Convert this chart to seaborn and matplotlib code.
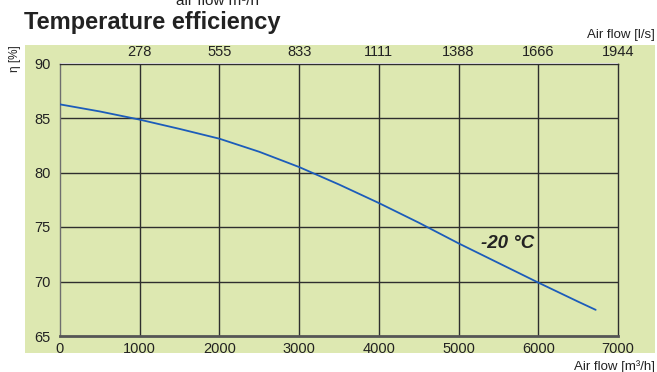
import matplotlib
matplotlib.use("Agg")
import matplotlib.pyplot as plt
from matplotlib.patches import Rectangle
import pandas as pd
import seaborn as sns

# Temperature efficiency curve at -20 °C outdoor temperature
airflow_m3h = [0, 500, 1000, 1500, 2000, 2500, 3000, 3500, 4000, 4500, 5000, 5500, 6000, 6500, 6720]
efficiency = [86.25, 85.6, 84.85, 84.0, 83.1, 81.9, 80.5, 78.9, 77.2, 75.4, 73.5, 71.7, 69.9, 68.15, 67.4]

bottom_ticks = [0, 1000, 2000, 3000, 4000, 5000, 6000, 7000]
top_ticks = [1000, 2000, 3000, 4000, 5000, 6000, 7000]
top_labels = ["278", "555", "833", "1111", "1388", "1666", "1944"]
y_ticks = [65, 70, 75, 80, 85, 90]

df = pd.DataFrame({"airflow": airflow_m3h, "eta": efficiency})

sns.set_theme(style="white")
plt.rcParams["font.family"] = ["Liberation Sans", "DejaVu Sans"]

BG = "#dde8b1"
GRID = "#2e2e2e"
TXT = "#222222"

W, H = 657, 372
fig = plt.figure(figsize=(W / 100, H / 100), dpi=100)
fig.patch.set_facecolor("white")

# green panel behind the chart
fig.patches.append(Rectangle((25 / W, 1 - 353 / H), (655 - 25) / W, (353 - 45) / H,
                             transform=fig.transFigure, facecolor=BG,
                             edgecolor="none", zorder=-1))

ax = fig.add_axes([60 / W, 1 - 336 / H, (618 - 60) / W, (336 - 63.5) / H])
ax.set_zorder(1)
ax.set_facecolor(BG)

sns.lineplot(data=df, x="airflow", y="eta", ax=ax, color="#1c5cba", linewidth=1.3,
             zorder=3)

ax.set_xlim(0, 7000)
ax.set_ylim(65, 90)
ax.set_xticks(bottom_ticks)
ax.set_yticks(y_ticks)
ax.set_xlabel("")
ax.set_ylabel("")

for v in bottom_ticks[1:-1]:
    ax.axvline(v, color=GRID, linewidth=1.0, zorder=2)
for v in y_ticks[1:-1]:
    ax.axhline(v, color=GRID, linewidth=1.0, zorder=2)

for side in ["top", "right"]:
    ax.spines[side].set_color(GRID)
    ax.spines[side].set_linewidth(1.0)
ax.spines["left"].set_color("#6e6e6e")
ax.spines["left"].set_linewidth(1.0)
ax.spines["bottom"].set_color("#555555")
ax.spines["bottom"].set_linewidth(2.0)

ax.tick_params(axis="both", length=0, labelsize=10.5, colors=TXT)
ax.tick_params(axis="x", pad=4)
ax.tick_params(axis="y", pad=7)

top = ax.secondary_xaxis("top")
top.set_xticks(top_ticks)
top.set_xticklabels(top_labels)
top.tick_params(length=0, labelsize=10.5, colors=TXT, pad=3)
top.spines["top"].set_visible(False)

ax.text(5610, 73.5, "-20 °C", fontsize=13.5, fontweight="bold", fontstyle="italic",
        color=TXT, ha="center", va="center", zorder=4)

fig.text(24 / W, 1 - 22 / H, "Temperature efficiency", fontsize=17,
         fontweight="bold", color=TXT, ha="left", va="center")
fig.text(217 / W, 1 - 5 / H, "air flow m³/h", fontsize=11, color=TXT,
         ha="center", va="baseline")
fig.text(655 / W, 1 - 35 / H, "Air flow [l/s]", fontsize=9.5, color=TXT,
         ha="right", va="center")
fig.text(655 / W, 1 - 367 / H, "Air flow [m³/h]", fontsize=9.5, color=TXT,
         ha="right", va="center")
fig.text(15 / W, 1 - 59 / H, "η [%]", fontsize=8.5, color=TXT, rotation=90,
         ha="center", va="center")

fig.savefig("out.png", dpi=100, facecolor="white")
